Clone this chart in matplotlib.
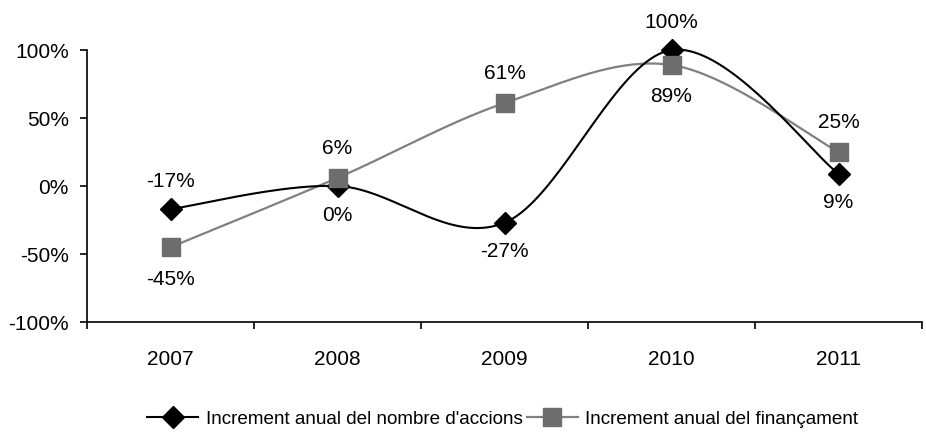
import numpy as np
import matplotlib.pyplot as plt
from matplotlib.ticker import FixedLocator, NullFormatter

years = ["2007", "2008", "2009", "2010", "2011"]
accions = [-17, 0, -27, 100, 9]
financament = [-45, 6, 61, 89, 25]
label_accions = "Increment anual del nombre d'accions"
label_financament = "Increment anual del finançament"

# where each value label sits: +1 above the point, -1 below
pos_accions = [1, -1, -1, 1, -1]
pos_financament = [-1, 1, 1, -1, 1]

plt.rcParams['font.family'] = ['Liberation Sans Narrow', 'Liberation Sans', 'DejaVu Sans']
plt.rcParams['font.size'] = 15


def smooth(xs, ys, n=40):
    # Catmull-Rom style bezier smoothing, like Excel's smoothed lines
    pts = np.column_stack([xs, ys]).astype(float)
    ext = np.vstack([pts[0], pts, pts[-1]])
    out = []
    for i in range(len(pts) - 1):
        p0, p1, p2, p3 = ext[i], ext[i + 1], ext[i + 2], ext[i + 3]
        c1 = p1 + (p2 - p0) / 6
        c2 = p2 - (p3 - p1) / 6
        t = np.linspace(0, 1, n)[:, None]
        seg = ((1 - t) ** 3) * p1 + 3 * ((1 - t) ** 2) * t * c1 + 3 * (1 - t) * t ** 2 * c2 + t ** 3 * p2
        out.append(seg if i == 0 else seg[1:])
    seg = np.vstack(out)
    return seg[:, 0], seg[:, 1]


fig = plt.figure(figsize=(9.26, 4.32), dpi=100)
ax = fig.add_axes([0.094, 0.2546, 0.9017, 0.6296])

x = np.arange(len(years))
black = "#000000"
gray = "#808080"
gray_mk = "#6d6d6d"

sx, sy = smooth(x, accions)
ax.plot(sx, sy, color=black, lw=1.5, zorder=3, clip_on=False)
ax.plot(x, accions, ls="none", marker="D", ms=11, color=black, zorder=4, clip_on=False)

sx, sy = smooth(x, financament)
ax.plot(sx, sy, color=gray, lw=1.6, zorder=2, clip_on=False)
ax.plot(x, financament, ls="none", marker="s", ms=12.5, color=gray_mk, zorder=4, clip_on=False)

# offsets in points (above, below)
for xi, v, p in zip(x, accions, pos_accions):
    dy = 20 if p > 0 else -21
    ax.annotate(f"{v}%", (xi, v), xytext=(0, dy), textcoords="offset points",
                ha="center", va="center")
for xi, v, p in zip(x, financament, pos_financament):
    dy = 21 if p > 0 else -23
    ax.annotate(f"{v}%", (xi, v), xytext=(0, dy), textcoords="offset points",
                ha="center", va="center")

ax.set_xlim(-0.5, len(years) - 0.5)
ax.set_ylim(-100, 100)
ax.set_yticks([-100, -50, 0, 50, 100])
ax.set_yticklabels([f"{t}%" for t in [-100, -50, 0, 50, 100]])
ax.xaxis.set_major_locator(FixedLocator(np.arange(-0.5, len(years), 1.0)))
ax.xaxis.set_major_formatter(NullFormatter())
ax.xaxis.set_minor_locator(FixedLocator(x))
ax.set_xticklabels(years, minor=True)
ax.tick_params(axis="x", which="minor", length=0, pad=20)
ax.tick_params(axis="x", which="major", length=5, width=1.2, direction="out")
ax.tick_params(axis="y", length=5, width=1.2, direction="out", pad=8)

for s in ["top", "right"]:
    ax.spines[s].set_visible(False)
for s in ["left", "bottom"]:
    ax.spines[s].set_linewidth(1.2)

h1, = ax.plot([], [], color=black, lw=1.5, marker="D", ms=11)
h2, = ax.plot([], [], color=gray, lw=1.6, marker="s", ms=12.5, mfc=gray_mk, mec=gray_mk)
fig.legend([h1, h2], [label_accions, label_financament], loc="center",
           bbox_to_anchor=(0.543, 0.03), ncol=2, frameon=False, handlelength=2.7,
           handletextpad=0.4, columnspacing=0.2, fontsize=13.6)

fig.savefig("out.png", dpi=100)
